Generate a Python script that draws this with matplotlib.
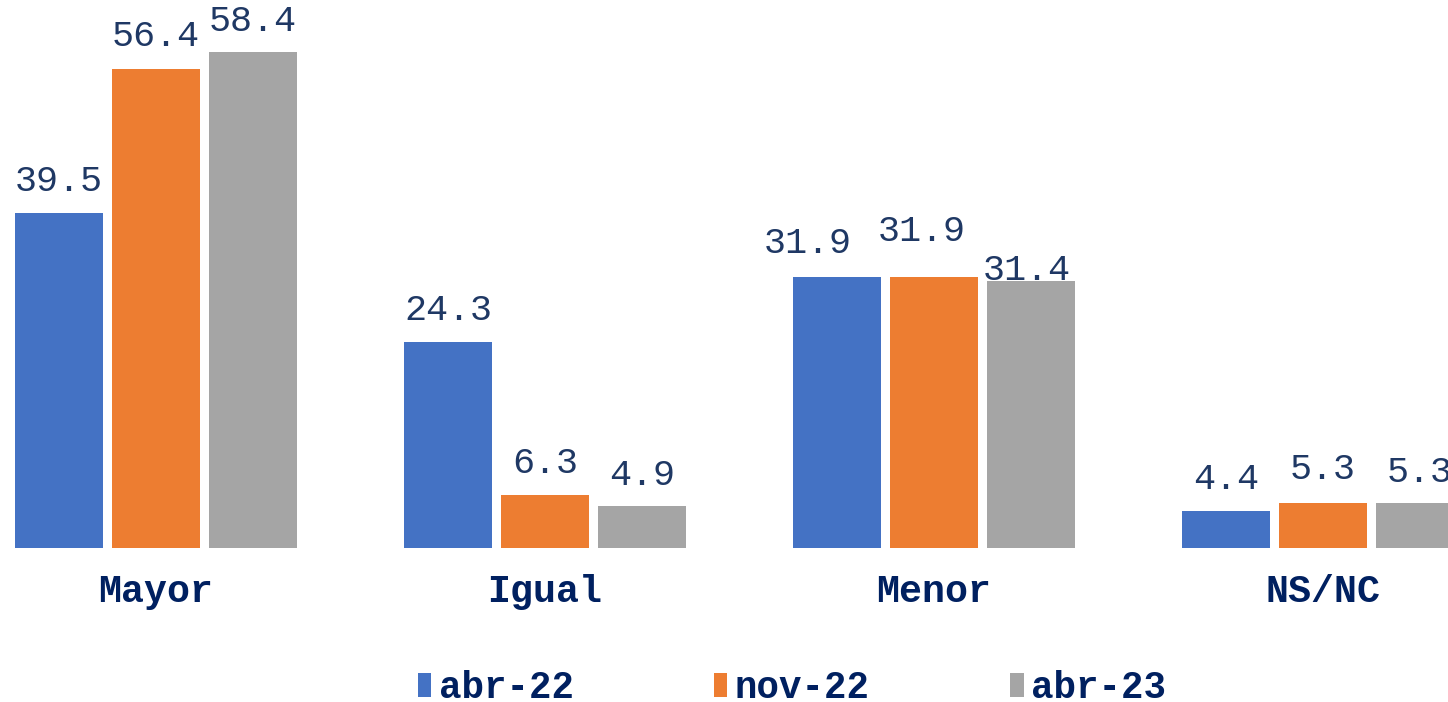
import matplotlib
matplotlib.use("Agg")
import matplotlib.pyplot as plt
import numpy as np

categories = ['Mayor', 'Igual', 'Menor', 'NS/NC']
series_names = ['abr-22', 'nov-22', 'abr-23']
abr22 = [39.5, 24.3, 31.9, 4.4]
nov22 = [56.4, 6.3, 31.9, 5.3]
abr23 = [58.4, 4.9, 31.4, 5.3]
colors = ['#4472C4', '#ED7D31', '#A5A5A5']

# label nudges (px) where Excel moved overlapping labels
label_dx = {(2, 0): -29, (2, 1): -12, (2, 2): -4}
label_dy = {(0, 1): 2, (2, 0): 3, (2, 1): 15, (2, 2): -20, (3, 1): 3}

plt.rcParams['font.family'] = ['Liberation Mono', 'DejaVu Sans Mono']
txt_color = '#1F3864'
bold_color = '#002060'
fs = 26.5

fig = plt.figure(figsize=(14.48, 7.02), dpi=100)
ax = fig.add_axes([0, 1 - 548 / 702, 1, 548 / 702])

x = np.arange(len(categories))
step = 97 / 389
width = 88 / 389
all_series = [abr22, nov22, abr23]

for j, vals in enumerate(all_series):
    pos = x + (j - 1) * step
    ax.bar(pos, vals, width=width, color=colors[j], label=series_names[j])
    for i, v in enumerate(vals):
        dx = label_dx.get((i, j), 0)
        dy = 31 + label_dy.get((i, j), 0)
        ax.annotate(f'{v:.1f}', (pos[i], v), xytext=(dx * 0.72, dy * 0.72),
                    textcoords='offset points', ha='center', va='center',
                    fontsize=fs, color=txt_color, annotation_clip=False)

ax.set_xlim(-156 / 389, (1448 - 156) / 389)
ax.set_ylim(0, 548 / 8.49)
ax.set_xticks(x)
ax.set_xticklabels(categories, fontsize=27.5, fontweight='bold', color=bold_color)
ax.tick_params(axis='x', length=0, pad=19)
ax.set_yticks([])
for s in ax.spines.values():
    s.set_visible(False)

leg = ax.legend(loc='center', bbox_to_anchor=(792 / 1448, 14 / 702),
                bbox_transform=fig.transFigure, ncol=3, frameon=False,
                prop={'family': 'Liberation Mono', 'weight': 'bold', 'size': 27},
                handlelength=0.35, handleheight=0.6, handletextpad=0.2,
                columnspacing=3.75, borderaxespad=0)
for t in leg.get_texts():
    t.set_color(bold_color)

fig.savefig('out.png', dpi=100)
